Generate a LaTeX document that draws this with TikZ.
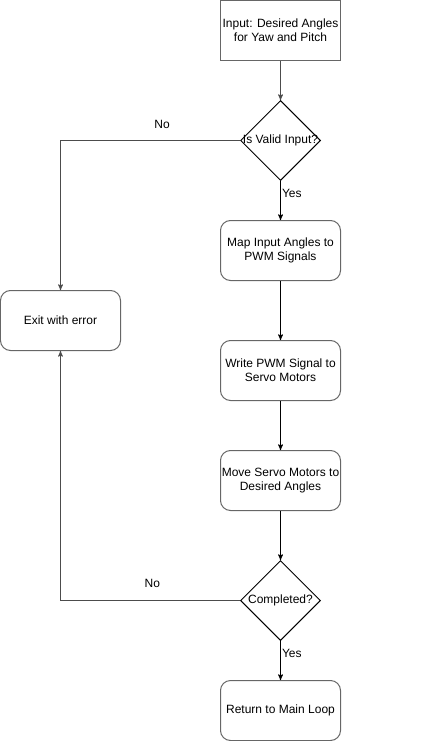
\documentclass[tikz,border=0pt]{standalone}
\usepackage{fontspec}
\setmainfont{Liberation Sans}
\usepackage{tikz}
\usetikzlibrary{arrows,shapes.geometric}

\begin{document}
\begin{tikzpicture}[->,>=stealth',x=1pt,y=-1pt,node distance=110pt,
                    line width=1pt,
                    box/.style={rectangle,draw=black!60,minimum width=120pt,minimum height=60pt,
                      align=center,font=\fontsize{12}{14}\selectfont,inner sep=0pt},
                    round box/.style={box,rounded corners=10pt},
                    dec/.style={diamond,draw,minimum width=80pt,minimum height=80pt,aspect=1,
                      inner sep=0pt,label={[font=\fontsize{12}{14}\selectfont]center:#1}}]

  \useasboundingbox (-0.5,-0.5) rectangle (420.5,740.5);

  \node[box] (input) at (280,30) {Input: Desired Angles\\for Yaw and Pitch};
  \node[dec=Is Valid Input?] (valid) [below of=input] {};
  \node[round box] (map) [below of=valid] {Map Input Angles to\\PWM Signals};
  \node[round box] (write) [below of=map, node distance=120pt] {Write PWM Signal to\\Servo Motors};
  \node[round box] (move) [below of=write] {Move Servo Motors to\\Desired Angles};
  \node[dec=Completed?] (done) [below of=move, node distance=120pt] {};
  \node[round box] (ret) [below of=done] {Return to Main Loop};
  \node[round box] (exit) at (60,320) {Exit with error};

  \path[every node/.style={font=\fontsize{12}{14}\selectfont}]
    (input) edge[draw=black!70] (valid)
    (valid) edge node [pos=0.33,right,inner sep=1pt] {Yes} (map)
    (map) edge (write)
    (write) edge (move)
    (move) edge (done)
    (done) edge node [pos=0.33,right,inner sep=1pt] {Yes} (ret);

  \draw[draw=black!70,every node/.style={font=\fontsize{12}{14}\selectfont}]
    (valid.west) -| node [pos=0.217,yshift=16pt] {No} (exit.north);
  \draw[draw=black!70,every node/.style={font=\fontsize{12}{14}\selectfont}]
    (done.west) -| node [pos=0.244,yshift=17pt] {No} (exit.south);
\end{tikzpicture}
\end{document}
